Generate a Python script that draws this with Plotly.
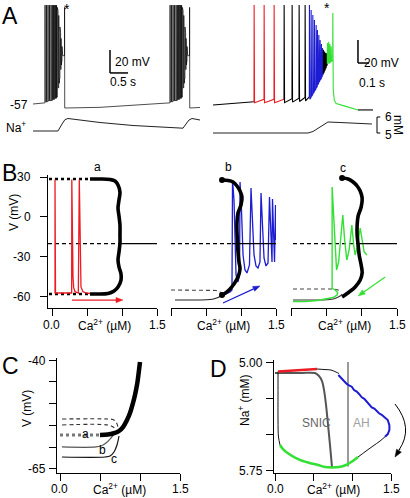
import plotly.graph_objects as go

W, H = 410, 498
FONT = "Liberation Sans, Arial, Helvetica, sans-serif"
RED = "#ec1c24"
BLUE = "#1c1cd2"
GREEN = "#33e033"
DARK = "#555555"
LIGHT = "#9a9a9a"
COLORS = {"k": "#000000", "r": RED, "b": BLUE, "g": GREEN}

# ---------------- Panel A, left: bursting (t in s, V in mV) ----------------
A_burst_onsets = [0.333, 3.806]
A_spike_offsets = [0.000, 0.042, 0.083, 0.125, 0.167, 0.203, 0.236, 0.267, 0.294, 0.319,
                   0.342, 0.361, 0.381, 0.397, 0.414, 0.431, 0.444, 0.458, 0.472, 0.486, 0.542]
A_spike_thresh = [-56, -55, -55, -54, -54, -54, -53, -53, -52, -52,
                  -51, -47, -43, -39, -35, -31, -27, -23, -20, -17, -15]
A_spike_peaks = [29, 29, 29, 29, 29, 29, 29, 29, 29, 29,
                 27, 24, 20, 15, 10, 5, 0, -4, -7, -9, 27]
A_spike_troughs = [-55, -55, -54, -54, -54, -53, -53, -52, -52, -51,
                   -47, -43, -39, -35, -31, -27, -23, -20, -17, -15, -60.5]
A_slow_t = [[0.0, 0.333], [1.861, 3.806], [4.639]]
A_slow_v = [[-57, -56], [-59.9, -56], [-60]]
A_na_t = [0.0, 0.694, 0.806, 0.889, 0.972, 1.861, 2.778, 3.806, 4.167, 4.25, 4.333, 4.417, 4.639]
A_na_v = [5.125, 5.125, 5.5625, 5.84, 5.906, 5.656, 5.469, 5.33, 5.30, 5.5625, 5.8125, 5.906, 5.8125]

# ---------------- Panel A, right: expanded burst ----------------
R_pre_t = [0.0, 0.2]
R_pre_v = [-57, -55.8]
R_spike_t = [0.3727, 0.4636, 0.5545, 0.6455, 0.7182, 0.7818, 0.8364,
             0.8755, 0.8909, 0.9064, 0.9209, 0.9364, 0.9482, 0.9609, 0.9727, 0.9845, 0.9936,
             1.0027, 1.0118, 1.0209, 1.0300, 1.0391, 1.0500, 1.0609, 1.0727, 1.0882]
R_spike_thresh = [-54.2, -52, -52, -52, -51.5, -51, -50.5,
                  -50, -50.5, -48, -45.5, -43, -40.5, -38, -35.5, -34, -32,
                  -30, -28, -26, -24, -21, -20, -20, -19, -18]
R_spike_peak = [30, 30, 30, 30, 30, 30, 30,
                30, 25.6, 21.3, 16.9, 12.6, 8.3, 3.9, -0.4, -3.9, -7.4,
                -9, -10.5, -11.5, -12, -3, -2, -4, -6, 23]
R_spike_trough = [-55, -55, -55, -55, -54.5, -54, -53.5,
                  -52, -49.5, -47, -44.5, -42, -39.5, -37, -35, -33, -31,
                  -29, -27, -25, -23, -21, -21, -20, -19, -44]
R_spike_color = ["r"] * 3 + ["k"] * 4 + ["b"] * 10 + ["k"] * 4 + ["g"] * 5
R_tail_t = [1.103, 1.12, 1.2, 1.318, 1.4545]
R_tail_v = [-53, -55.8, -58, -61.3, -61.3]
R_tail_color = ["g", "g", "g", "g", "k"]
R_na_t = [0.0, 0.864, 0.909, 0.955, 1.0, 1.045, 1.155, 1.445]
R_na_v = [5.0, 5.0, 5.094, 5.28, 5.5, 5.6875, 5.656, 5.5625]

# ---------------- Panel B (Ca in uM, V in mV) ----------------
B_eq_v = -20
B_eq_start = [-0.057, 0.0, 0.028]
B_eq_switch = [0.97, 0.871, 0.957]
Ba_orbit_ca = [0.543, 0.686, 0.829, 0.9, 0.943, 0.971, 0.957, 0.943, 0.957, 0.971, 0.971,
               0.971, 0.957, 0.943, 0.957, 0.986, 0.986, 0.943, 0.886, 0.8, 0.657, 0.543]
Ba_orbit_v = [28.5, 28.5, 28.1, 27, 24, 18.7, 12.7, 6.7, 0.7, -6, -13.5,
              -19.5, -26.3, -32.3, -37.5, -42.8, -47.3, -52.5, -55.5, -57.4, -57.8, -57.8]
Ba_dot_ca = [-0.043, 0.543]
Ba_dot_top = 28.5
Ba_dot_bot = -57.8
Ba_red_ca = [0.043, 0.043, 0.05, 0.281, 0.283, 0.3, 0.31, 0.329, 0.376, 0.39, 0.405, 0.414,
             0.443, 0.486, 0.543]
Ba_red_v = [-57.4, 28.1, -57, -57, 28.1, -45, -53, -56, -57, 28.1, -45, -52.5,
            -56, -57, -57.4]
Bb_orbit_ca = [0.729, 0.814, 0.886, 0.943, 0.986, 1.014, 1.0, 0.957, 0.943, 0.943, 0.95,
               0.957, 0.971, 0.986, 0.957, 0.9, 0.829, 0.757, 0.729]
Bb_orbit_v = [27.75, 27.4, 26.25, 23.25, 19.5, 15, 9, 3, -3.75, -11.25, -18.75,
              -26.25, -33.75, -39, -45, -50.25, -54.75, -57.75, -58.5]
Bb_low_ca = [0.057, 0.414, 0.557, 0.629, 0.686, 0.729]
Bb_low_v = [-62.25, -62.25, -61.9, -61.1, -60, -58.5]
Bb_mid_ca = [0.0, 0.557, 0.643, 0.7, 0.729]
Bb_mid_v = [-54.75, -54.75, -55.1, -56.25, -57.75]
Bb_blue_ca = [0.729, 0.786, 0.843, 0.871, 0.879, 0.9, 0.914, 0.929, 0.957, 0.979, 0.986,
              1.007, 1.029, 1.057, 1.086, 1.121, 1.143, 1.164, 1.186, 1.214, 1.243, 1.271,
              1.286, 1.307, 1.329, 1.357, 1.386, 1.407, 1.429, 1.443, 1.45, 1.464, 1.479,
              1.493, 1.5]
Bb_blue_v = [-59.25, -57.75, -56.25, -54.75, 27.75, 12.75, -24.75, -43.5, -48.75, -43.5, 26.25,
             5.25, -28.5, -39.75, -42, -36, 21.75, 1.5, -28.5, -36.75, -38.25, -33.75,
             18, -6, -30.75, -36.75, -34.5, 15, -17.25, -33.75, 13.5, -13.5, -33.75,
             9, -17.25]
Bc_orbit_ca = [0.723, 0.809, 0.879, 0.936, 0.979, 1.007, 0.993, 0.95, 0.936, 0.936, 0.95,
               0.965, 0.993, 1.007, 0.979, 0.908, 0.823, 0.723]
Bc_orbit_v = [29.25, 28.5, 26.25, 23.25, 19.5, 14.25, 7.5, 0.75, -6, -13.5, -21,
              -28.5, -36, -42, -47.25, -52.5, -56.25, -60]
Bc_low_ca = [0.028, 0.411, 0.553, 0.638, 0.695, 0.723]
Bc_low_v = [-62.25, -62.25, -61.9, -60.75, -59.25, -57.75]
Bc_mid_ca = [0.028, 0.61, 0.667, 0.709]
Bc_mid_v = [-54, -54, -54.75, -56.25]
Bc_green_ca = [0.028, 0.199, 0.369, 0.511, 0.596, 0.652, 0.66, 0.624, 0.582, 0.582, 0.603,
               0.624, 0.645, 0.674, 0.709, 0.733, 0.759, 0.79, 0.823, 0.861, 0.887, 0.908,
               0.943, 0.979, 1.007, 1.035, 1.074]
Bc_green_v = [-63.4, -63.4, -62.6, -61.5, -60.4, -58.5, -56.6, -54.75, -53.6, 22.5, 1.5,
              -28.5, -39.75, -33.75, -9.75, 1.5, -17.25, -32.25, -24.75, -6, -21, -28.5,
              -21, -8.25, -17.25, -26.25, -28.5]

# ---------------- Panel C ----------------
C_thick_ca = [0.5, 0.6, 0.6875, 0.7375, 0.7875, 0.8375, 0.875, 0.9125, 0.9375, 0.9625, 0.98, 1.0]
C_thick_v = [-57.2, -57.09, -56.74, -56.28, -55.37, -53.76, -52.16, -49.86, -48.03, -45.73,
             -43.44, -40.46]
C_a_ca = [0.0, 0.5]
C_a_v = -57.2
C_d1_ca = [0.025, 0.6, 0.66, 0.7, 0.725]
C_d1_v = [-53.53, -53.53, -53.64, -54.2, -55.37]
C_d2_ca = [0.025, 0.6, 0.66, 0.7, 0.71]
C_d2_v = [-54.9, -54.9, -55.3, -56.0, -56.5]
C_b_ca = [0.025, 0.45, 0.5125, 0.575, 0.6375, 0.6875]
C_b_v = [-59.95, -59.95, -59.72, -59.04, -57.89, -56.74]
C_c_ca = [0.025, 0.5625, 0.625, 0.675, 0.7125, 0.7375]
C_c_v = [-62.25, -62.25, -62.02, -61.1, -59.5, -57.43]

# ---------------- Panel D (Ca in uM, Na in mM) ----------------
D_ah_ca = 0.944
D_ah_na = [5.0, 5.72]
D_snic_ca = [0.0, 0.323, 0.517, 0.569, 0.608, 0.634, 0.66, 0.686, 0.711, 0.737]
D_snic_na = [5.076, 5.076, 5.076, 5.096, 5.131, 5.193, 5.296, 5.434, 5.571, 5.723]
D_red_ca = [0.039, 0.194, 0.388, 0.543]
D_red_na = [5.065, 5.061, 5.055, 5.048]
D_k1_ca = [0.543, 0.647, 0.724, 0.789, 0.828]
D_k1_na = [5.048, 5.052, 5.055, 5.069, 5.079]
D_blue_ca = [0.819, 0.863, 0.897, 0.928, 0.957, 0.992, 1.022, 1.057, 1.087, 1.122, 1.155,
             1.186, 1.216, 1.251, 1.285, 1.316, 1.345, 1.380, 1.423, 1.458, 1.479, 1.479,
             1.458, 1.423]
D_blue_na = [5.089, 5.112, 5.136, 5.151, 5.160, 5.170, 5.193, 5.204, 5.220, 5.243, 5.253,
             5.273, 5.289, 5.312, 5.321, 5.339, 5.353, 5.363, 5.381, 5.399, 5.434, 5.468,
             5.496, 5.514]
D_k2_ca = [1.423, 1.358, 1.268, 1.177, 1.074]
D_k2_na = [5.514, 5.544, 5.578, 5.613, 5.654]
D_green_ca = [1.074, 0.996, 0.918, 0.828, 0.737, 0.647, 0.556, 0.427, 0.298, 0.181, 0.103, 0.065]
D_green_na = [5.654, 5.685, 5.709, 5.723, 5.726, 5.723, 5.709, 5.692, 5.668, 5.633, 5.599, 5.571]
D_k3_ca = [0.065, 0.045, 0.039, 0.039, 0.039]
D_k3_na = [5.571, 5.516, 5.399, 5.227, 5.065]

# tick labels
CA_TICKS = [0, 0.5, 1.0, 1.5]
CA_TICK_LABELS = {0: "0.0", 1.5: "1.5"}
B_V_TICKS = [30, 0, -30, -60]
C_V_TICKS = [-65, -60, -55, -50, -45, -40]
C_V_LABELS = {-65: "-65", -40: "-40"}
D_NA_TICKS = [5.0, 5.25, 5.5, 5.75]
D_NA_LABELS = {5.0: "5.00", 5.75: "5.75"}

# scale bars
SB_mv = 20
SB_left_s = 0.5
SB_right_s = 0.1

# ---------------- geometry (pixels) ----------------
GEOM = {
    "": ((0, 205), (0, 130), (-0.9167, 4.7778), (-79.61, 33.43)),
    "2": ((0, 205), (110, 140), (-0.9167, 4.7778), (4.5625, 6.4375)),
    "3": ((205, 410), (0, 130), (-0.0727, 1.7909), (-78.74, 34.30)),
    "4": ((205, 410), (110, 140), (-0.0727, 1.7909), (4.5625, 6.4375)),
    "5": ((48, 157), (175, 308), (-0.0571, 1.5), (-68.27, 31.5)),
    "6": ((171, 276), (175, 308), (0, 1.5), (-68.27, 31.5)),
    "7": ((291, 397), (175, 308), (0, 1.5), (-68.27, 31.5)),
    "8": ((57, 180), (358, 473), (-0.0375, 1.5), (-65.92, -39.54)),
    "9": ((274, 391), (360, 473), (-0.013, 1.5), (5.764, 4.986)),
}


def to_px(ax, x, y):
    (l, r), (t, b), (x0, x1), (y0, y1) = GEOM[ax]
    return l + (x - x0) / (x1 - x0) * (r - l), b - (y - y0) / (y1 - y0) * (b - t)


fig = go.Figure()


def line(x, y, ax, color="#000000", width=1.0, dash="solid", shape="linear"):
    fig.add_trace(go.Scatter(x=x, y=y, mode="lines", xaxis="x" + ax, yaxis="y" + ax,
                             line=dict(color=color, width=width, dash=dash, shape=shape),
                             hoverinfo="skip", showlegend=False))


# ---- A left
ax_t, ax_v = [], []
for k, onset in enumerate(A_burst_onsets):
    ax_t += A_slow_t[k]
    ax_v += A_slow_v[k]
    for off, th, pk, tr in zip(A_spike_offsets, A_spike_thresh, A_spike_peaks, A_spike_troughs):
        t = onset + off
        ax_t += [t, t + 0.002, t + 0.006]
        ax_v += [th, pk, tr]
ax_t += A_slow_t[-1]
ax_v += A_slow_v[-1]
line(ax_t, ax_v, "", width=0.7)
line(A_na_t, A_na_v, "2", color="#222222", width=1)

# ---- A right (coloured segments)
segs = []


def add_pt(c, x, y):
    if not segs or segs[-1][0] != c:
        if segs:
            segs.append([c, [segs[-1][1][-1]], [segs[-1][2][-1]]])
        else:
            segs.append([c, [], []])
    segs[-1][1].append(x)
    segs[-1][2].append(y)


for t, v in zip(R_pre_t, R_pre_v):
    add_pt("k", t, v)
prev = "k"
for t, th, pk, tr, c in zip(R_spike_t, R_spike_thresh, R_spike_peak, R_spike_trough, R_spike_color):
    add_pt(prev, t, th)
    add_pt(c, t + 0.0012, pk)
    add_pt(c, t + 0.005, tr)
    prev = c
for t, v, c in zip(R_tail_t, R_tail_v, R_tail_color):
    add_pt(c, t, v)
for c, xs, ys in segs:
    line(xs, ys, "3", color=COLORS[c], width=1.1)
line(R_na_t, R_na_v, "4", color="#222222", width=1)

# ---- B left (a)
line([B_eq_start[0], B_eq_switch[0]], [B_eq_v, B_eq_v], "5", dash="4px,3px", width=1.1)
line([B_eq_switch[0], 1.5], [B_eq_v, B_eq_v], "5", width=1.1)
line(Ba_dot_ca, [Ba_dot_top] * 2, "5", width=2.6, dash="dot")
line(Ba_dot_ca, [Ba_dot_bot] * 2, "5", width=2.6, dash="dot")
line(Ba_red_ca, Ba_red_v, "5", color=RED, width=1.3)
line(Ba_orbit_ca, Ba_orbit_v, "5", width=3.6, shape="spline")

# ---- B middle (b)
line([B_eq_start[1], B_eq_switch[1]], [B_eq_v, B_eq_v], "6", dash="4px,3px", width=1.1)
line(Bb_mid_ca, Bb_mid_v, "6", color="#444444", dash="4px,3px", width=1.1)
line(Bb_low_ca, Bb_low_v, "6", color="#222222", width=1.1, shape="spline")
line(Bb_blue_ca, Bb_blue_v, "6", color=BLUE, width=1.3)
line([B_eq_switch[1], 1.5], [B_eq_v, B_eq_v], "6", width=1.1)
line(Bb_orbit_ca, Bb_orbit_v, "6", width=3.6, shape="spline")
fig.add_trace(go.Scatter(x=[Bb_orbit_ca[0], Bb_orbit_ca[-1]], y=[Bb_orbit_v[0], Bb_orbit_v[-1]],
                         mode="markers", xaxis="x6", yaxis="y6", marker=dict(color="black", size=6),
                         hoverinfo="skip", showlegend=False))

# ---- B right (c)
line([B_eq_start[2], B_eq_switch[2]], [B_eq_v, B_eq_v], "7", dash="4px,3px", width=1.1)
line(Bc_mid_ca, Bc_mid_v, "7", color="#444444", dash="4px,3px", width=1.1)
line(Bc_low_ca, Bc_low_v, "7", color="#333333", width=1.1, shape="spline")
line(Bc_green_ca, Bc_green_v, "7", color=GREEN, width=1.4)
line([B_eq_switch[2], 1.5], [B_eq_v, B_eq_v], "7", width=1.1)
line(Bc_orbit_ca, Bc_orbit_v, "7", width=3.6, shape="spline")
fig.add_trace(go.Scatter(x=[Bc_orbit_ca[0]], y=[Bc_orbit_v[0]],
                         mode="markers", xaxis="x7", yaxis="y7", marker=dict(color="black", size=6),
                         hoverinfo="skip", showlegend=False))

# ---- C
line(C_d1_ca, C_d1_v, "8", color="#333333", dash="4px,3px", width=1.1, shape="spline")
line(C_d2_ca, C_d2_v, "8", color="#333333", dash="4px,3px", width=1.1, shape="spline")
line(C_b_ca, C_b_v, "8", color="#555555", width=1.2, shape="spline")
line(C_c_ca, C_c_v, "8", color="#111111", width=1.2, shape="spline")
line(C_a_ca, [C_a_v] * 2, "8", color="#777777", width=3, dash="dot")
line(C_thick_ca, C_thick_v, "8", width=4.5, shape="spline")

# ---- D
line([D_ah_ca, D_ah_ca], D_ah_na, "9", color=LIGHT, width=2)
line(D_snic_ca, D_snic_na, "9", color=DARK, width=2, shape="spline")
line(D_k3_ca, D_k3_na, "9", color="#111111", width=1, shape="spline")
line(D_k1_ca, D_k1_na, "9", color="#111111", width=1, shape="spline")
line(D_k2_ca, D_k2_na, "9", color="#111111", width=1, shape="spline")
line(D_red_ca, D_red_na, "9", color=RED, width=2.4)
line(D_blue_ca, D_blue_na, "9", color=BLUE, width=2)
line(D_green_ca, D_green_na, "9", color=GREEN, width=2.6, shape="spline")

# ---------------- axes ----------------


def hidden(ax):
    (l, r), (t, b), xr, yr = GEOM[ax]
    return (dict(domain=[l / W, r / W], range=list(xr), visible=False, anchor="y" + ax,
                 fixedrange=True, showgrid=False, zeroline=False),
            dict(domain=[1 - b / H, 1 - t / H], range=list(yr), visible=False, anchor="x" + ax,
                 fixedrange=True, showgrid=False, zeroline=False))


def tick_axis(domain, rng, anchor, tickvals, show=True):
    if not show:
        return dict(domain=domain, range=rng, visible=False, anchor=anchor, fixedrange=True,
                    showgrid=False, zeroline=False)
    return dict(domain=domain, range=rng, anchor=anchor, showline=True, linecolor="black",
                linewidth=1, ticks="outside", ticklen=7, tickwidth=1, tickcolor="black",
                tickvals=tickvals, showticklabels=False, showgrid=False, zeroline=False,
                fixedrange=True)


layout_axes = {}
for ax in ["", "2", "3", "4"]:
    xa, ya = hidden(ax)
    layout_axes["xaxis" + ax] = xa
    layout_axes["yaxis" + ax] = ya
YTICKS = {"5": B_V_TICKS, "6": None, "7": None, "8": C_V_TICKS, "9": D_NA_TICKS}
for ax in ["5", "6", "7", "8", "9"]:
    (l, r), (t, b), xr, yr = GEOM[ax]
    layout_axes["xaxis" + ax] = tick_axis([l / W, r / W], list(xr), "y" + ax, CA_TICKS)
    layout_axes["yaxis" + ax] = tick_axis([1 - b / H, 1 - t / H], list(yr), "x" + ax,
                                          YTICKS[ax], show=YTICKS[ax] is not None)

# ---------------- annotations ----------------
anns = []


def text(s, x, y, size=12, color="black", angle=0, xanchor="center"):
    anns.append(dict(text=s, x=x / W, y=1 - y / H, xref="paper", yref="paper", showarrow=False,
                     font=dict(family=FONT, size=size, color=color), textangle=angle,
                     xanchor=xanchor, yanchor="middle"))


for s, x, y in [("A", 10, 16), ("B", 9, 173), ("C", 10, 366), ("D", 218, 369)]:
    text(s, x, y, size=23)
text("*", 67, 9, size=14)
text("*", 327, 8, size=14)
text("-57", 30, 105, xanchor="right")
text("Na<sup>+</sup>", 28, 127, xanchor="right")
text("20 mV", 113, 62, xanchor="left")
text("0.5 s", 108, 82, xanchor="left")
text("20 mV", 362, 63, xanchor="left")
text("0.1 s", 357, 83, xanchor="left")
text("6", 388, 117)
text("5", 388, 135)
text("mM", 398, 125, angle=90)
text("a", 97, 167)
text("b", 228, 167)
text("c", 343, 168)
text("V (mV)", 14, 213, angle=-90)
text("V (mV)", 27, 409, angle=-90)
text("Na<sup>+</sup> (mM)", 244, 400, angle=-90)
CA_LABEL = "Ca<sup>2+</sup> (µM)"

# x tick labels & axis labels
for ax, ylab, first in [("5", 325, True), ("6", 325, False), ("7", 325, False),
                        ("8", 489, True), ("9", 489, True)]:
    for v, s in CA_TICK_LABELS.items():
        if v == 0 and not first:
            continue
        x, _ = to_px(ax, v, GEOM[ax][3][0])
        text(s, x, ylab)
    xc, _ = to_px(ax, 0.75, GEOM[ax][3][0])
    text(CA_LABEL, xc, ylab)

# y tick labels
for ax, labels in [("5", {v: str(v) for v in B_V_TICKS}), ("8", C_V_LABELS), ("9", D_NA_LABELS)]:
    for v, s in labels.items():
        xl = GEOM[ax][0][0]
        _, y = to_px(ax, GEOM[ax][2][0], v)
        text(s, xl - 9 - (6 if ax == "5" else 0), y + 0.5, xanchor="right")

text("a", 85, 434)
text("b", 102, 450)
text("c", 114, 459)
text("SNIC", 316, 423, color="#666666")
text("AH", 361, 423, color="#a0a0a0")

# ---------------- shapes: arrows, scale bars, bracket, curved arrow ----------------
shapes = []


def arrow_px(x0, y0, x1, y1, color, head=7.0, half=2.6, width=1.2):
    dxp, dyp = x1 - x0, y1 - y0
    n = (dxp ** 2 + dyp ** 2) ** 0.5
    ux, uy = dxp / n, dyp / n
    bx, by = x1 - ux * head, y1 - uy * head
    shapes.append(dict(type="path", xref="paper", yref="paper",
                       path=f"M {P(x0, y0)} L {P(bx, by)}", line=dict(color=color, width=width)))
    shapes.append(dict(type="path", xref="paper", yref="paper",
                       path=f"M {P(x1, y1)} L {P(bx - uy * half, by + ux * half)} "
                            f"L {P(bx + uy * half, by - ux * half)} Z",
                       fillcolor=color, line=dict(color=color, width=0.5)))


def P(x, y):
    return f"{x / W:.4f},{1 - y / H:.4f}"


# arrows in B (tail -> head, data units)
for ax, (c0, v0, c1, v1), col in [("5", (0.286, -62.3, 1.014, -62.3), RED),
                                    ("6", (0.743, -64.5, 1.271, -51.75), BLUE),
                                    ("7", (1.333, -45.0, 0.95, -59.25), GREEN)]:
    x0, y0 = to_px(ax, c0, v0)
    x1, y1 = to_px(ax, c1, v1)
    arrow_px(x0, y0, x1, y1, col)

L_t0, L_v0 = 2.139, -30.0
R_t0, R_v0 = 1.318, -20.5
for xr, yr, t0, v0, dt in [("x", "y", L_t0, L_v0, SB_left_s), ("x3", "y3", R_t0, R_v0, SB_right_s)]:
    shapes.append(dict(type="line", xref=xr, yref=yr, x0=t0, x1=t0, y0=v0, y1=v0 + SB_mv,
                       line=dict(color="black", width=1.5)))
    shapes.append(dict(type="line", xref=xr, yref=yr, x0=t0, x1=t0 + dt, y0=v0, y1=v0,
                       line=dict(color="black", width=1.5)))
NB_t = 1.491
shapes.append(dict(type="line", xref="x4", yref="y4", x0=NB_t, x1=NB_t, y0=5, y1=6,
                   line=dict(color="black", width=1)))
for v in (5, 6):
    shapes.append(dict(type="line", xref="x4", yref="y4", x0=NB_t, x1=NB_t + 0.03, y0=v, y1=v,
                       line=dict(color="black", width=1)))

# curved arrow in D
shapes.append(dict(type="path", xref="paper", yref="paper",
                   path=f"M {P(395, 404)} Q {P(414, 428)} {P(399, 450)}",
                   line=dict(color="black", width=1)))
arrow_px(400, 449, 395, 457, "black", head=7.5, half=2.8, width=1)

fig.update_layout(
    width=W, height=H, margin=dict(l=0, r=0, t=0, b=0),
    paper_bgcolor="white", plot_bgcolor="rgba(0,0,0,0)",
    font=dict(family=FONT, size=12, color="black"),
    showlegend=False, annotations=anns, shapes=shapes, **layout_axes,
)
fig.write_html("out.html", config={"displayModeBar": False, "staticPlot": True},
               post_script="document.body.style.margin='0';document.body.style.overflow='hidden';")
